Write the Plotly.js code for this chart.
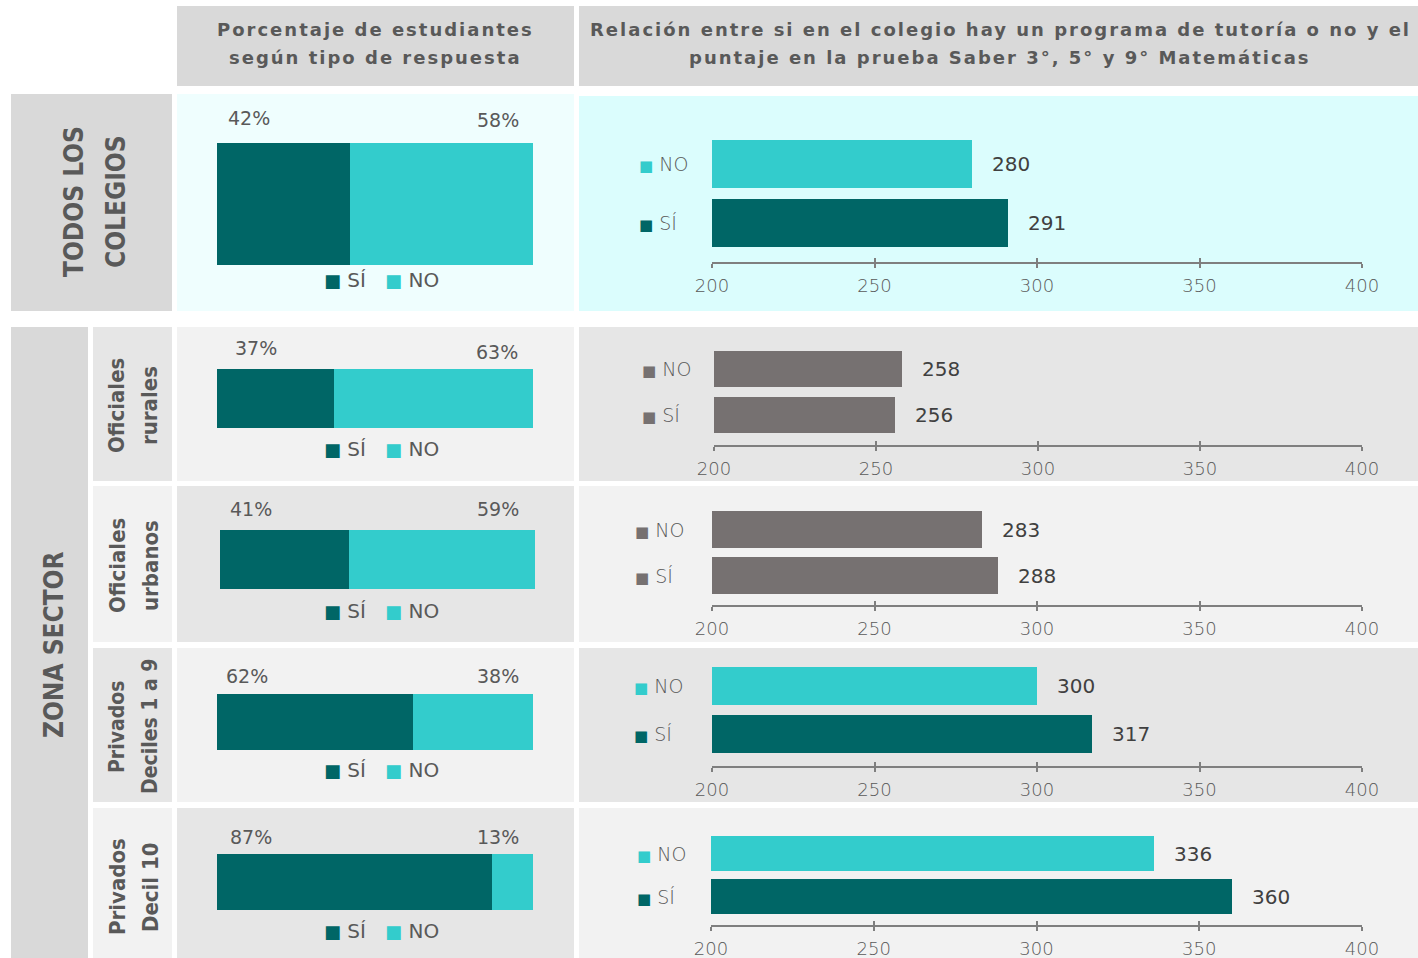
<!DOCTYPE html>
<html><head><meta charset="utf-8">
<script src="https://cdn.plot.ly/plotly-3.0.1.min.js"></script>
<style>html,body{margin:0;padding:0;background:#fff}#chart{width:1418px;height:958px}</style>
</head><body><div id="chart"></div>
<script>
// ---------- data ----------
const groupLines = [['TODOS LOS','COLEGIOS'],['Oficiales','rurales'],['Oficiales','urbanos'],['Privados','Deciles 1 a 9'],['Privados','Decil 10']];
const responses = ['SÍ','NO'];
const pctSi = [42,37,41,62,87];
const pctNo = [58,63,59,38,13];
const scoreSi = [291,256,288,317,360];
const scoreNo = [280,258,283,300,336];
const scoreTicks = [200,250,300,350,400];
const headerLeft = ['Porcentaje de estudiantes','según tipo de respuesta'];
const headerRight = ['Relación entre si en el colegio hay un programa de tutoría o no y el','puntaje en la prueba Saber 3°, 5° y 9° Matemáticas'];
const zoneLabel = 'ZONA SECTOR';

// ---------- styles / geometry ----------
const W=1418, H=958;
const P = v => v/W, Q = v => 1 - v/H;
const C_SI='#006666', C_NO='#33cccc', C_GREY='#767171', AX='#7f7f7f', TXT='#595959';
const BODY='"DejaVu Sans", Verdana, sans-serif';
const COND='"DejaVu Sans Condensed", "DejaVu Sans", sans-serif';
const HEAD='"DejaVu Sans", Verdana, sans-serif';
const rows=[
 {lbg:'#effefe', rbg:'#dbfdfd', sbg:'#d9d9d9', sx:[11,172], left:[94,311], right:[96,311], bar:[217,533,143,265], pl:[226,118], pr:[521,120], leg:280, rx:[712,1362], no:[140,188], si:[199,247], ax:263, cat:637, grey:false, lab:[[74,116],202], labSize:26},
 {lbg:'#f2f2f2', rbg:'#e6e6e6', sbg:'#e6e6e6', sx:[93,172], left:[327,481], right:[327,481], bar:[217,533,369,428], pl:[233,348], pr:[520,352], leg:449, rx:[714,1362], no:[351,387], si:[397,433], ax:446, cat:640, grey:true, lab:[[117,150],406], labSize:22},
 {lbg:'#e6e6e6', rbg:'#f2f2f2', sbg:'#f2f2f2', sx:[93,172], left:[486,642], right:[486,642], bar:[220,535,530,589], pl:[228,509], pr:[521,509], leg:611, rx:[712,1362], no:[511,548], si:[557,594], ax:606, cat:633, grey:true, lab:[[117,150],566], labSize:22},
 {lbg:'#f2f2f2', rbg:'#e6e6e6', sbg:'#e6e6e6', sx:[93,172], left:[648,802], right:[648,802], bar:[217,533,694,750], pl:[224,676], pr:[521,676], leg:770, rx:[712,1362], no:[667,705], si:[715,753], ax:767, cat:632, grey:false, lab:[[117,150],727], labSize:21},
 {lbg:'#e6e6e6', rbg:'#f2f2f2', sbg:'#f2f2f2', sx:[93,172], left:[808,958], right:[808,958], bar:[217,533,854,910], pl:[228,837], pr:[521,837], leg:931, rx:[711,1362], no:[836,871], si:[879,914], ax:926, cat:635, grey:false, lab:[[117,150],887], labSize:22},
];

const rect=(x0,x1,y0,y1,c)=>({type:'rect',xref:'paper',yref:'paper',x0:P(x0),x1:P(x1),y0:Q(y1),y1:Q(y0),fillcolor:c,line:{width:0},layer:'below'});
const shapes=[
  rect(177,574,6,86,'#d9d9d9'), rect(579,1418,6,86,'#d9d9d9'),
  rect(11,88,327,958,'#d9d9d9')
];
const annotations=[];
const traces=[];
const layout={
  width:W, height:H, margin:{l:0,r:0,t:0,b:0}, paper_bgcolor:'#ffffff', plot_bgcolor:'rgba(0,0,0,0)',
  barmode:'stack', showlegend:false, hovermode:false, shapes, annotations
};
const txt=(text,x,y,o={})=>Object.assign({text,x:P(x),y:Q(y),xref:'paper',yref:'paper',showarrow:false,xanchor:'center',yanchor:'middle',font:{family:BODY,size:19,color:TXT}},o);
const spaced=t=>`<span style="letter-spacing:2px">${t}</span>`;

// headers
headerLeft.forEach((t,k)=>annotations.push(txt(spaced(t),376,30+28*k,{font:{family:HEAD,size:18,color:TXT,weight:'bold'}})));
headerRight.forEach((t,k)=>annotations.push(txt(spaced(t),1000,30+28*k,{font:{family:HEAD,size:18,color:TXT,weight:'bold'}})));
annotations.push(txt(zoneLabel,54,645,{textangle:-90,font:{family:COND,size:26,color:TXT,weight:'bold'}}));

rows.forEach((r,i)=>{
  const siCol = r.grey?C_GREY:C_SI, noCol = r.grey?C_GREY:C_NO;
  shapes.push(rect(r.sx[0],r.sx[1],r.left[0],r.left[1],r.sbg));
  shapes.push(rect(177,574,r.left[0],r.left[1],r.lbg));
  shapes.push(rect(579,1418,r.right[0],r.right[1],r.rbg));
  // group labels (rotated)
  groupLines[i].forEach((t,k)=>annotations.push(txt(t,r.lab[0][k],r.lab[1],{textangle:-90,font:{family:COND,size:r.labSize,color:TXT,weight:'bold'}})));

  // left stacked bar
  const L=i+1;
  layout['xaxis'+L]={domain:[P(r.bar[0]),P(r.bar[1])],range:[0,100],visible:false,fixedrange:true,anchor:'y'+L};
  layout['yaxis'+L]={domain:[Q(r.bar[3]),Q(r.bar[2])],range:[-0.5,0.5],visible:false,fixedrange:true,anchor:'x'+L};
  traces.push({type:'bar',orientation:'h',x:[pctSi[i]],y:[0],width:1,marker:{color:C_SI,line:{width:0}},xaxis:'x'+L,yaxis:'y'+L,name:responses[0]});
  traces.push({type:'bar',orientation:'h',x:[pctNo[i]],y:[0],width:1,marker:{color:C_NO,line:{width:0}},xaxis:'x'+L,yaxis:'y'+L,name:responses[1]});
  annotations.push(txt(pctSi[i]+'%',r.pl[0],r.pl[1],{xanchor:'left'}));
  annotations.push(txt(pctNo[i]+'%',r.pr[0],r.pr[1],{xanchor:'right'}));
  const sq=(c)=>`<span style="fill:${c};font-size:18px">■</span>`;
  annotations.push(txt(`${sq(C_SI)}\u00a0${responses[0]}\u00a0\u00a0\u00a0${sq(C_NO)}\u00a0${responses[1]}`,381,r.leg,{font:{family:BODY,size:20,color:TXT}}));

  // right grouped bar
  const R=i+6, O=i+11;
  const cNo=(r.no[0]+r.no[1])/2, cSi=(r.si[0]+r.si[1])/2, d=cSi-cNo;
  const hb=((r.no[1]-r.no[0])+(r.si[1]-r.si[0]))/2;
  layout['xaxis'+R]={domain:[P(r.rx[0]),P(r.rx[1])],range:[200,400],anchor:'free',position:Q(r.ax),
    showline:true,linecolor:AX,linewidth:2,ticks:'outside',ticklen:4,tickwidth:2,tickcolor:AX,
    tickvals:scoreTicks,ticktext:scoreTicks.map(String),tickfont:{family:BODY,size:18,color:TXT,weight:300},
    showgrid:false,zeroline:false,fixedrange:true,ticklabelstandoff:2};
  layout['xaxis'+O]={overlaying:'x'+R,anchor:'free',position:Q(r.ax),range:[200,400],ticks:'inside',ticklen:5,tickwidth:2,tickcolor:AX,
    tickvals:scoreTicks,showticklabels:false,showline:false,showgrid:false,zeroline:false,fixedrange:true};
  layout['yaxis'+R]={domain:[Q(cSi+d/2),Q(cNo-d/2)],range:[-0.5,1.5],visible:false,fixedrange:true,anchor:'x'+R};
  traces.push({type:'bar',orientation:'h',x:[scoreSi[i],scoreNo[i]],y:[0,1],width:hb/d,
    marker:{color:[siCol,noCol],line:{width:0}},xaxis:'x'+R,yaxis:'y'+R});
  traces.push({type:'scatter',mode:'markers',x:[scoreTicks[0]],y:[0],marker:{opacity:0,size:1},xaxis:'x'+O,yaxis:'y'+R});
  [scoreSi[i],scoreNo[i]].forEach((v,k)=>{
    annotations.push({text:String(v),x:v,y:k,xref:'x'+R,yref:'y'+R,showarrow:false,xanchor:'left',yanchor:'middle',xshift:18,
      font:{family:BODY,size:20,color:'#404040'}});
  });
  [[responses[0],siCol,0],[responses[1],noCol,1]].forEach(([lab,c,k])=>{
    annotations.push({text:`<span style="fill:${c};font-size:15px;font-weight:normal">■</span>\u00a0${lab}`,x:P(r.cat),y:k,xref:'paper',yref:'y'+R,showarrow:false,
      xanchor:'left',yanchor:'middle',font:{family:BODY,size:19,color:TXT,weight:300}});
  });
});

Plotly.newPlot('chart',traces,layout,{staticPlot:true,displayModeBar:false});
</script></body></html>
